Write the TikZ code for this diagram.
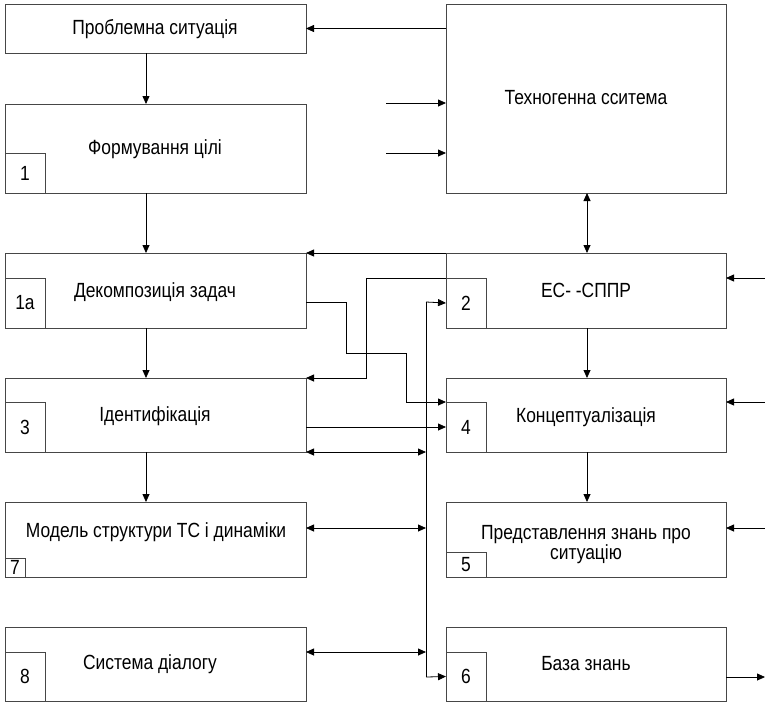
\documentclass[tikz,border=0pt]{standalone}
\usepackage{fontspec}
\setmainfont[FakeStretch=0.85]{Liberation Sans}
\usetikzlibrary{arrows.meta}
\definecolor{ln}{RGB}{70,70,70}
\begin{document}
\begin{tikzpicture}[x=1pt,y=-1pt,
  box/.style={draw=ln, line width=0.9pt, rectangle, inner sep=0pt, outer sep=0pt, font=\fontsize{20.5}{21}\selectfont},
  numbox/.style={box, anchor=south west},
  arr/.style={draw=black, line width=0.8pt, -{Triangle[length=8pt,width=7pt]}},
  darr/.style={draw=black, line width=0.8pt, {Triangle[length=8pt,width=7pt]}-{Triangle[length=8pt,width=7pt]}},
  wire/.style={draw=ln, line width=0.8pt},
  txt/.style={font=\fontsize{20.5}{19}\selectfont, inner sep=0pt}]
\useasboundingbox (0,0) rectangle (765,702);
% main boxes
\node[box, minimum width=301, minimum height=49] (p) at (155.5,28.5) {};
\node[txt] (pt) at (155,29) {Проблемна ситуація};
\node[box, minimum width=301, minimum height=89] (f) at (155.5,148.5) {};
\node[txt] (ft) at (155,149) {Формування цілі};
\node[box, minimum width=301, minimum height=75] (d) at (155.5,290.5) {};
\node[txt] (dt) at (155,292) {Декомпозиція задач};
\node[box, minimum width=301, minimum height=74] (i) at (155.5,415) {};
\node[txt] (it) at (155,416) {Ідентифікація};
\node[box, minimum width=301, minimum height=75] (m) at (155.5,539.5) {};
\node[txt] (mt) at (156,532) {Модель структури ТС і динаміки};
\node[box, minimum width=301, minimum height=74] (s) at (155.5,664) {};
\node[txt] (st) at (150,664) {Система діалогу};

\node[box, minimum width=280, minimum height=189] (t) at (586,98.5) {};
\node[txt] (tt) at (586,98) {Техногенна сситема};
\node[box, minimum width=280, minimum height=75] (e) at (586,290.5) {};
\node[txt] (et) at (586,290) {ЕС- -СППР};
\node[box, minimum width=280, minimum height=74] (k) at (586,415) {};
\node[txt] (kt) at (586,417) {Концептуалізація};
\node[box, minimum width=280, minimum height=75] (r) at (586,539.5) {};
\node[txt, align=center] (rt) at (586,545) {Представлення знань про\\ситуацію};
\node[box, minimum width=280, minimum height=74] (b) at (586,664) {};
\node[txt] (bt) at (586,664) {База знань};

% number boxes
\node[numbox, minimum width=40, minimum height=40] (n1) at (f.south west) {1};
\node[numbox, minimum width=40, minimum height=50] (n1a) at (d.south west) {1а};
\node[numbox, minimum width=40, minimum height=50] (n3) at (i.south west) {3};
\node[numbox, minimum width=20, minimum height=19] (n7) at (m.south west) {7};
\node[numbox, minimum width=40, minimum height=49] (n8) at (s.south west) {8};
\node[numbox, minimum width=40, minimum height=50] (n2) at (e.south west) {2};
\node[numbox, minimum width=40, minimum height=50] (n4) at (k.south west) {4};
\node[numbox, minimum width=40, minimum height=25] (n5) at (r.south west) {5};
\node[numbox, minimum width=40, minimum height=49] (n6) at (b.south west) {6};

% helper coordinates
\coordinate (cx) at (146,0);
\coordinate (rx) at (587,0);
\coordinate (bus) at (426,0);
\coordinate (in1) at (386,103);
\coordinate (in2) at (386,153);
\coordinate (ine) at (765,278);
\coordinate (ink) at (765,402);
\coordinate (inr) at (765,528);
\coordinate (outb) at (765,677);
\coordinate (busTop) at (426,302);
\coordinate (busBot) at (426,677);

% left column vertical arrows
\draw[arr] (p.south -| cx) -- (f.north -| cx);
\draw[arr] (f.south -| cx) -- (d.north -| cx);
\draw[arr] (d.south -| cx) -- (i.north -| cx);
\draw[arr] (i.south -| cx) -- (m.north -| cx);

% right column vertical arrows
\draw[darr] (t.south -| rx) -- (e.north -| rx);
\draw[arr] (e.south -| rx) -- (k.north -| rx);
\draw[arr] (k.south -| rx) -- (r.north -| rx);

% top feedback
\draw[arr] (t.west |- p.east) -- (p.east);
\draw[arr] (in1) -- (t.west |- in1);
\draw[arr] (in2) -- (t.west |- in2);

% ES to decomposition
\draw[arr] (e.north west) -- (d.north east);
% box 2 to identification
\draw[wire, -{Triangle[length=8pt,width=7pt]}, draw=black] (n2.north west) -- (366,278) -- (366,378) -- (i.north east);
% decomposition to conceptualisation
\draw[wire, -{Triangle[length=8pt,width=7pt]}, draw=black] (d.east |- busTop) -- (346,302) -- (346,353) -- (406,353) -- (406,402) -- (n4.north west);
% identification to conceptualisation
\draw[arr] (i.east |- n4.west) -- (n4.west);

% bus
\draw[wire, draw=black] (busTop) -- (busBot);
\draw[arr] (busTop) -- (n2.west);
\draw[arr] (busBot) -- (n6.west);
\draw[darr] (i.south east) -- (bus |- i.south east);
\draw[darr] (m.east |- inr) -- (bus |- inr);
\draw[darr] (s.east |- n8.north) -- (bus |- n8.north);

% right side inputs / output
\draw[arr] (ine) -- (e.east |- ine);
\draw[arr] (ink) -- (k.east |- ink);
\draw[arr] (inr) -- (r.east |- inr);
\draw[arr] (b.east |- outb) -- (outb);
\end{tikzpicture}
\end{document}
